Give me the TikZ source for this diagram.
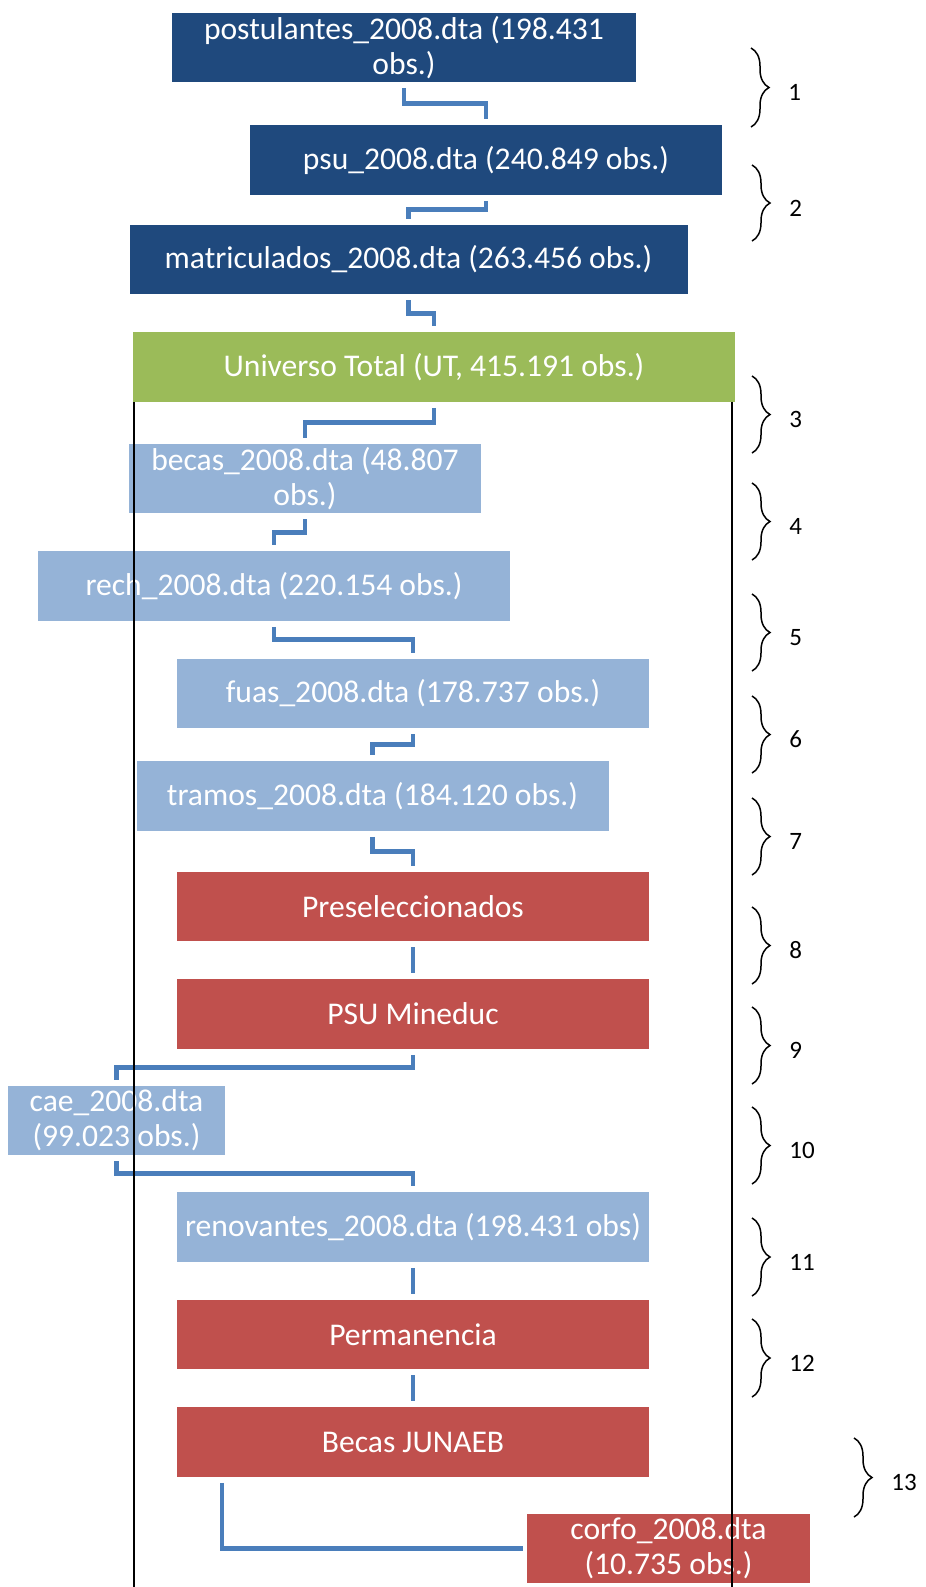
\documentclass[tikz,border=0pt]{standalone}
\usepackage{fontspec}
\setsansfont{Carlito}
\usepackage{tikz}
\usetikzlibrary{positioning,calc,decorations.pathreplacing}
\definecolor{boxnavy}{HTML}{1F497D}
\definecolor{boxgreen}{HTML}{9BBB59}
\definecolor{boxsky}{HTML}{95B3D7}
\definecolor{boxred}{HTML}{C0504D}
\definecolor{linkblue}{HTML}{4A7EBB}
\tikzset{
  box/.style={align=center, inner xsep=1pt, inner ysep=0pt, outer sep=0pt, minimum height=34.75pt, minimum width=236pt, text=white, font=\sffamily\fontsize{15.8}{17.5}\selectfont},
  darkbox/.style={box, fill=boxnavy},
  totalbox/.style={box, fill=boxgreen},
  filebox/.style={box, fill=boxsky},
  stepbox/.style={box, fill=boxred},
  link/.style={draw=linkblue, line width=2.3pt, shorten <=3pt, shorten >=3pt},
  elbow/.style={to path={|- ($(\tikztostart)!0.5!(\tikztotarget)$) -| (\tikztotarget)}},
  rule/.style={draw=black, line width=1pt},
  bracket/.style={decorate, decoration={brace, amplitude=9pt}, line width=0.75pt},
  num/.style={anchor=west, inner sep=0pt, font=\sffamily\fontsize{12.5}{14}\selectfont}
}
\begin{document}
\begin{tikzpicture}[x=0.5pt, y=-0.5pt]
\useasboundingbox (0,0) rectangle (926,1587);
\node[darkbox, minimum width=232pt] (post) at (404,47.5) {postulantes\_2008.dta (198.431\\obs.)};
\node[darkbox, below=21.5pt of post, xshift=41pt] (psu) {psu\_2008.dta (240.849 obs.)};
\node[darkbox, below=15pt of psu, xshift=-38.75pt, minimum width=279pt] (matr) {matriculados\_2008.dta (263.456 obs.)};
\node[totalbox, below=19pt of matr, xshift=12.75pt, minimum width=301pt] (ut) {Universo Total (UT, 415.191 obs.)};
\node[filebox, below=21pt of ut, xshift=-64.5pt, minimum width=176pt] (becas) {becas\_2008.dta (48.807\\obs.)};
\node[filebox, below=19pt of becas, xshift=-15.5pt] (rech) {rech\_2008.dta (220.154 obs.)};
\node[filebox, below=19pt of rech, xshift=69.5pt] (fuas) {fuas\_2008.dta (178.737 obs.)};
\node[filebox, below=16.5pt of fuas, xshift=-20.25pt] (tramos) {tramos\_2008.dta (184.120 obs.)};
\node[stepbox, below=20.5pt of tramos, xshift=20.25pt] (presel) {Preseleccionados};
\node[stepbox, below=19pt of presel] (psumin) {PSU Mineduc};
\node[filebox, below=18.5pt of psumin, xshift=-148.25pt, minimum width=108.5pt] (cae) {cae\_2008.dta\\(99.023 obs.)};
\node[filebox, below=18.5pt of cae, xshift=148.25pt] (renov) {renovantes\_2008.dta (198.431 obs)};
\node[stepbox, below=19pt of renov] (perm) {Permanencia};
\node[stepbox, below=19pt of perm] (junaeb) {Becas JUNAEB};
\node[stepbox, below=18.5pt of junaeb, xshift=127.75pt, minimum width=141.5pt] (corfo) {corfo\_2008.dta\\(10.735 obs.)};
% elbow links
\draw[link, elbow] (post.south) to (psu.north);
\draw[link, elbow] (psu.south) to (matr.north);
\draw[link, elbow] (matr.south) to (ut.north);
\draw[link, elbow] (ut.south) to (becas.north);
\draw[link, elbow] (becas.south) to (rech.north);
\draw[link, elbow] (rech.south) to (fuas.north);
\draw[link, elbow] (fuas.south) to (tramos.north);
\draw[link, elbow] (tramos.south) to (presel.north);
\draw[link, elbow] (presel.south) to (psumin.north);
\draw[link, elbow] (psumin.south) to (cae.north);
\draw[link, elbow] (cae.south) to (renov.north);
\draw[link, elbow] (renov.south) to (perm.north);
\draw[link, elbow] (perm.south) to (junaeb.north);
\draw[link, shorten >=2pt] ([xshift=22.5pt]junaeb.south west) |- (corfo.west);
% frame lines under the universe
\coordinate (bot) at (0,1587);
\coordinate (utl) at ([xshift=0.5pt]ut.south west);
\coordinate (utr) at ([xshift=-1.5pt]ut.south east);
\draw[rule] (utl) -- (utl |- bot);
\draw[rule] (utr) -- (utr |- bot);
% step braces
\foreach \x/\a/\b/\n in {751/48/127/1, 752/165/241/2, 752/376/453/3, 752/483/560/4, 752/594/671/5, 752/696/773/6, 752/798/875/7, 752/907/984/8, 752/1007/1084/9, 752/1107/1184/10, 752/1218/1296/11, 752/1319/1397/12, 854/1438/1517/13}{
  \draw[bracket] (\x,\a) -- (\x,\b);
  \node[num] (n\n) at (\x+37,{(\a+\b)/2+5}) {\n};
}
\end{tikzpicture}
\end{document}
